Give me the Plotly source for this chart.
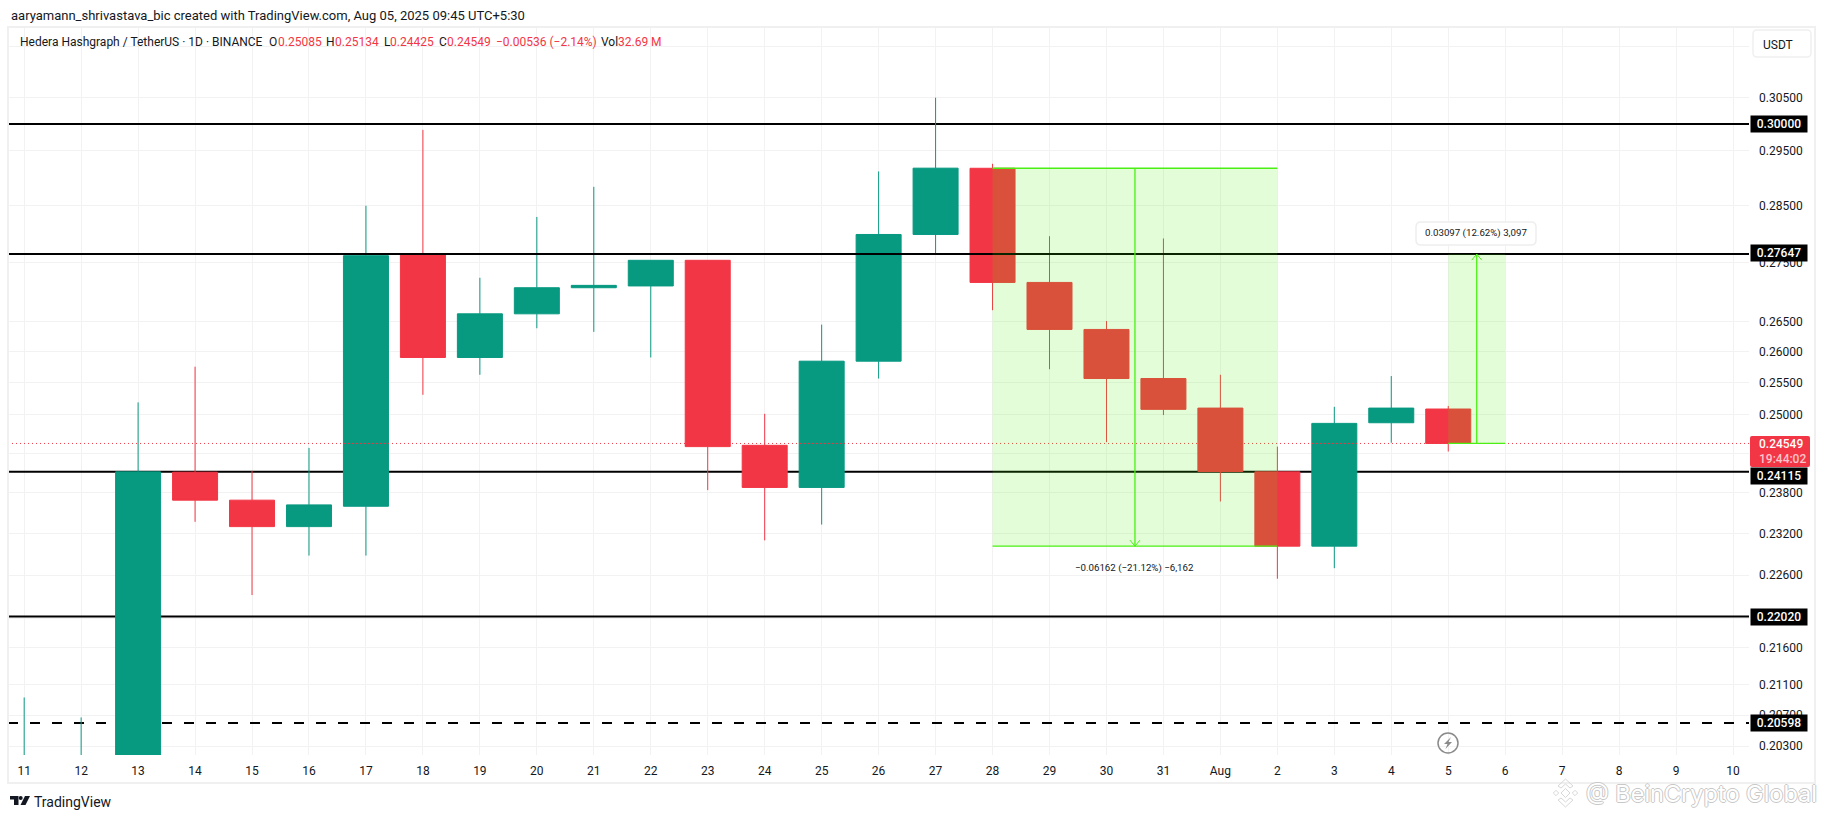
import math
import pandas as pd
import plotly.graph_objects as go

# ---------- data ----------
DATES = [d.strftime("%Y-%m-%d") for d in pd.date_range("2025-07-11", "2025-08-05")]
OPEN  = [.1900,.1970,.1990,.2411,.2369,.2330,.2360,.27647,.2591,.2663,.2707,.2710,.2754,.2452,.2388,.2585,.2799,.29178,.2716,.2637,.2557,.2510,.24115,.23016,.2487,.25085]
HIGH  = [.2093,.2067,.2519,.2576,.2413,.2448,.2850,.2989,.2724,.2830,.2884,.2754,.2754,.2501,.2645,.2912,.3050,.2926,.2796,.2651,.2792,.2563,.2450,.2512,.2561,.25134]
LOW   = [.1880,.1950,.1980,.2337,.2232,.2288,.2288,.2531,.2563,.2639,.2633,.2591,.2384,.2310,.2333,.2557,.2765,.2669,.2572,.2457,.2499,.2367,.2255,.2270,.2456,.24425]
CLOSE = [.1980,.1990,.24115,.2369,.2330,.2362,.2762,.2591,.2663,.2707,.2711,.2754,.2450,.2388,.2585,.2799,.2918,.2716,.2637,.2557,.2508,.2412,.23016,.2486,.2510,.24549]

AXIS_DATES = [d.strftime("%Y-%m-%d") for d in pd.date_range("2025-07-11", "2025-08-10")]
AXIS_LABELS = [str(i) for i in range(11, 32)] + ["Aug"] + [str(i) for i in range(2, 11)]
PRICE_TICKS = [.315,.305,.295,.285,.275,.265,.26,.255,.25,.244,.238,.232,.226,.22,.216,.211,.207,.203]

LEVELS_BELOW = [.30000, .24115, .22020]
LEVEL_ABOVE = .27647
LEVEL_DASHED = .20598
LAST_PRICE = .24549

DROP = dict(x0="2025-07-28", x1="2025-08-02", mid="2025-07-30 12:00", top=.29178, bottom=.23016)
RISE = dict(x0="2025-08-05", x1="2025-08-06", mid="2025-08-05 12:00", top=.27647, bottom=.24550)

X_RANGE = ["2025-07-10 17:11", "2025-08-10 06:43"]
Y_RANGE = [-0.69491, -0.49643]

# ---------- style ----------
UP, DOWN, INK, GRID, FRAME = "#089981", "#F23645", "#131722", "#f2f2f2", "#f0f0f0"
GREEN, GREEN_FILL = "#4BEF14", "rgba(76,239,0,0.15)"
FONT = "Roboto"
L, R, T, B = 8, 1749, 27, 755

def px(x): return (x - L) / (R - L)
def py(y): return (B - y) / (B - T)

def rrect(x0, y0, x1, y1, r):
    a, b, c, d = px(x0), px(x1), py(y0), py(y1)
    rx, ry = r / (R - L), r / (B - T)
    return (f"M{a+rx},{c} L{b-rx},{c} Q{b},{c} {b},{c-ry} L{b},{d+ry} Q{b},{d} {b-rx},{d} "
            f"L{a+rx},{d} Q{a},{d} {a},{d+ry} L{a},{c-ry} Q{a},{c} {a+rx},{c} Z")

def poly(points):
    return "M" + " L".join(f"{px(x)},{py(y)}" for x, y in points) + " Z"

def paper_shape(path, fill="rgba(0,0,0,0)", line=None, width=1):
    return dict(type="path", xref="paper", yref="paper", path=path, fillcolor=fill, layer="above",
                line=dict(color=line or "rgba(0,0,0,0)", width=width))

def text(x, y, s, color=INK, size=12, anchor="left", weight=None, **kw):
    f = dict(family=FONT, size=size, color=color)
    if weight: f["weight"] = weight
    return dict(xref="paper", yref="paper", x=px(x), y=py(y), text=s, showarrow=False, xanchor=anchor,
                yanchor="middle", font=f, borderpad=0, **kw)

fig = go.Figure()

fig.add_trace(go.Candlestick(
    x=DATES, open=OPEN, high=HIGH, low=LOW, close=CLOSE, whiskerwidth=0, hoverinfo="skip",
    increasing=dict(line=dict(color=UP, width=1), fillcolor=UP),
    decreasing=dict(line=dict(color=DOWN, width=1), fillcolor=DOWN)))

fig.add_trace(go.Scatter(x=X_RANGE, y=[LEVEL_ABOVE]*2, mode="lines", line=dict(color="#000000", width=2), hoverinfo="skip"))
fig.add_trace(go.Scatter(x=X_RANGE, y=[LAST_PRICE]*2, mode="lines", line=dict(color=DOWN, width=1, dash="1px,3px"), hoverinfo="skip"))

def arrow_head(mid, tip, pointing_down):
    m = pd.Timestamp(mid)
    dt = pd.Timedelta(hours=2.1)
    k = 1.00377 if pointing_down else 1 / 1.00377
    return [m - dt, m, m + dt], [tip * k, tip, tip * k]

for box, tip, down in ((DROP, DROP["bottom"], True), (RISE, RISE["top"], False)):
    fig.add_trace(go.Scatter(x=[box["x0"], box["x1"], box["x1"], box["x0"], box["x0"]],
                             y=[box["top"], box["top"], box["bottom"], box["bottom"], box["top"]],
                             mode="lines", line=dict(width=0), fill="toself", fillcolor=GREEN_FILL, hoverinfo="skip"))
    fig.add_trace(go.Scatter(x=[box["mid"], box["mid"]], y=[box["top"], box["bottom"]], mode="lines",
                             line=dict(color=GREEN, width=1.3), hoverinfo="skip"))
    fig.add_trace(go.Scatter(x=[box["x0"], box["x1"]], y=[box["bottom"]]*2, mode="lines",
                             line=dict(color=GREEN, width=1.3), hoverinfo="skip"))
    hx, hy = arrow_head(box["mid"], tip, down)
    fig.add_trace(go.Scatter(x=hx, y=hy, mode="lines", line=dict(color=GREEN, width=1), hoverinfo="skip"))
fig.add_trace(go.Scatter(x=[DROP["x0"], DROP["x1"]], y=[DROP["top"]]*2, mode="lines",
                         line=dict(color=GREEN, width=1.3), hoverinfo="skip"))

shapes = []
for lv in LEVELS_BELOW:
    shapes.append(dict(type="line", xref="x", yref="y", x0=X_RANGE[0], x1=X_RANGE[1], y0=lv, y1=lv,
                       layer="between", line=dict(color="#000000", width=2)))
shapes.append(dict(type="line", xref="x", yref="y", x0=X_RANGE[0], x1=X_RANGE[1], y0=LEVEL_DASHED, y1=LEVEL_DASHED,
                   layer="between", line=dict(color="#000000", width=2, dash="10px,12px")))

# outer frame, USDT button, tooltip, red price tag
shapes.append(paper_shape(poly([(8, 27), (1815, 27), (1815, 783), (8, 783)]), line=FRAME, width=2))
shapes.append(paper_shape(rrect(1753, 30, 1811, 57, 4), fill="#ffffff", line="#f0f0f0", width=1.5))
shapes.append(paper_shape(rrect(1416, 222, 1536, 245, 5), fill="#ffffff", line="#eeeeee", width=1.5))
shapes.append(paper_shape(rrect(1750, 436, 1810, 467, 2), fill=DOWN))

# bolt icon
shapes.append(dict(type="circle", xref="paper", yref="paper", x0=px(1438), x1=px(1458), y0=py(733), y1=py(753),
                   line=dict(color="#8a8a8a", width=1.5), fillcolor="rgba(0,0,0,0)", layer="above"))
shapes.append(paper_shape(poly([(1451, 737), (1444, 744), (1447.5, 744), (1445.5, 749), (1452, 742), (1448.5, 742)]), fill="#8a8a8a"))

# TradingView logo
shapes.append(paper_shape(poly([(10, 796), (18.5, 796), (18.5, 805), (14, 805), (14, 799.5), (10, 799.5)]), fill=INK))
shapes.append(dict(type="circle", xref="paper", yref="paper", x0=px(18.7), x1=px(22.7), y0=py(796), y1=py(800),
                   line=dict(width=0), fillcolor=INK, layer="above"))
shapes.append(paper_shape(poly([(25, 796), (30, 796), (25.5, 805), (20.5, 805)]), fill=INK))

# watermark logo
for cx, cy, r in ((1565.5, 793, 4.5), (1556, 793, 2.7), (1575, 793, 2.7)):
    shapes.append(paper_shape(poly([(cx, cy-r), (cx+r, cy), (cx, cy+r), (cx-r, cy)]), line="#d8d8d8", width=1))
shapes.append(paper_shape(poly([(1565.5, 779), (1573, 786), (1570, 788), (1565.5, 784), (1561, 788), (1558, 786)]), line="#d8d8d8", width=1))
shapes.append(paper_shape(poly([(1565.5, 807), (1573, 800), (1570, 798), (1565.5, 802), (1561, 798), (1558, 800)]), line="#d8d8d8", width=1))

ann = [
    text(9.5, 15, "aaryamann_shrivastava_bic created with TradingView.com, Aug 05, 2025 09:45 UTC+5:30", size=13),
    text(18.5, 42, "Hedera Hashgraph / TetherUS · 1D · BINANCE"),
    text(268, 42, "O"), text(277, 42, "0.25085", DOWN),
    text(325, 42, "H"), text(334, 42, "0.25134", DOWN),
    text(383, 42, "L"), text(389, 42, "0.24425", DOWN),
    text(438, 42, "C"), text(446, 42, "0.24549", DOWN),
    text(495, 42, "−0.00536 (−2.14%)", DOWN),
    text(600, 42, "Vol"), text(617, 42, "32.69 M", DOWN),
    text(1762, 45, "USDT"),
    text(1134, 568, "−0.06162 (−21.12%) −6,162", size=9.7, anchor="center"),
    text(1476, 233, "0.03097 (12.62%) 3,097", size=9.7, anchor="center"),
    text(1758, 444, "0.24549", "#ffffff", weight=500),
    text(1758, 459, "19:44:02", "#fbc4ca", weight=500),
    text(33, 802, "TradingView", size=14),
    dict(xref="paper", yref="paper", x=px(1584), y=py(793), text="@ BeinCrypto Global", showarrow=False,
         xanchor="left", yanchor="middle",
         font=dict(family="Inter", size=23.5, color="#ffffff",
                   shadow="1px 0 #c8c8c8, -1px 0 #c8c8c8, 0 1px #c8c8c8, 0 -1px #c8c8c8")),
]
for lv, shift in ((.30000, 0), (.27647, 1), (.24115, -4), (.22020, 0), (.20598, 0)):
    ann.append(dict(xref="paper", yref="y", x=px(1750), y=math.log10(lv), yshift=shift, text=f"{lv:.5f}",
                    showarrow=False, xanchor="left", yanchor="middle", width=56, height=16, bgcolor="#000000",
                    borderpad=0, align="center", font=dict(family=FONT, size=12, color="#ffffff", weight=500)))

fig.update_layout(
    width=1825, height=819, margin=dict(l=L, r=1825-R, t=T, b=819-B, pad=0, autoexpand=False),
    paper_bgcolor="#ffffff", plot_bgcolor="#ffffff", showlegend=False, boxgap=0.21, boxgroupgap=0,
    hovermode=False, font=dict(family=FONT, size=12, color=INK),
    shapes=shapes, annotations=ann,
    xaxis=dict(type="date", range=X_RANGE, rangeslider=dict(visible=False), tickmode="array",
               tickvals=AXIS_DATES, ticktext=AXIS_LABELS, tickangle=0, showgrid=True, gridcolor=GRID, gridwidth=1,
               zeroline=False, showline=False, ticks="", ticklabelstandoff=7, tickfont=dict(size=12, color=INK)),
    yaxis=dict(type="log", range=Y_RANGE, side="right", tickmode="array", tickvals=PRICE_TICKS,
               tickformat=".5f", showgrid=True, gridcolor=GRID, gridwidth=1, zeroline=False, showline=False,
               ticks="", ticklabelstandoff=9, tickfont=dict(size=12, color=INK)),
)

fig.write_html("out.html", config=dict(displayModeBar=False),
               post_script="document.body.style.margin='0';document.body.style.overflow='hidden';")
